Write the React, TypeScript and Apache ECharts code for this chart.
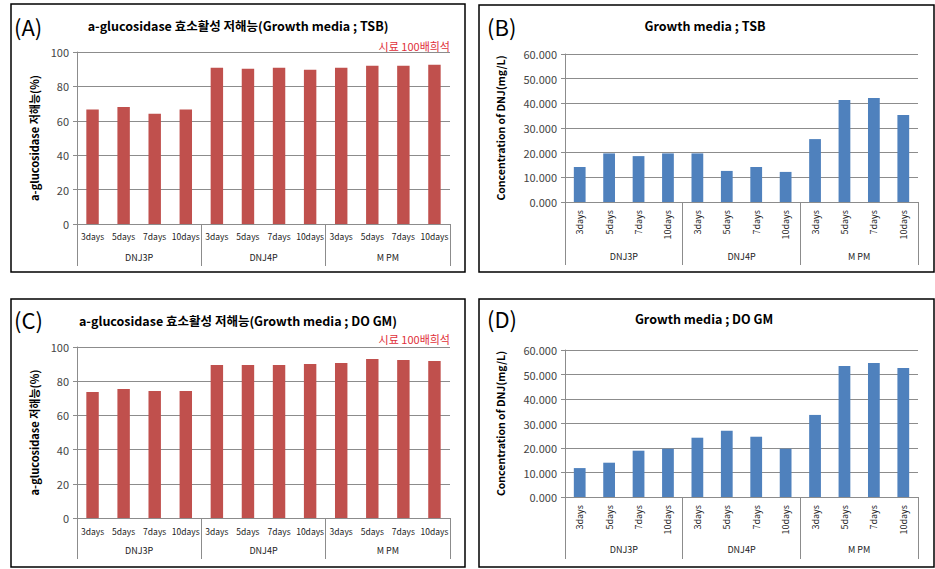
import React, { useEffect, useRef } from "react";
import * as echarts from "echarts";

const days = ["3days", "5days", "7days", "10days", "3days", "5days", "7days", "10days", "3days", "5days", "7days", "10days"];
const groups = ["DNJ3P", "DNJ4P", "M PM"];
const inhibTSB = [66.5, 68.0, 64.1, 66.5, 90.9, 90.3, 90.9, 89.7, 90.9, 92.0, 92.0, 92.6];
const inhibDOGM = [73.7, 75.5, 74.3, 74.3, 89.5, 89.5, 89.5, 90.1, 90.7, 93.0, 92.4, 91.8];
const dnjTSB = [14.2, 19.7, 18.6, 19.7, 19.7, 12.6, 14.2, 12.2, 25.5, 41.4, 42.2, 35.3];
const dnjDOGM = [11.8, 14.0, 18.9, 19.7, 24.2, 27.0, 24.6, 19.7, 33.5, 53.5, 54.7, 52.7];

const FONT = "'Noto Sans CJK KR', 'Noto Sans', sans-serif";
const GRAY = "#8c8c8c";
const RED = "#C0504D";
const BLUE = "#4F81BD";

type Panel = {
  grid: { left: number; top: number; width: number; height: number };
  data: number[];
  color: string;
  max: number;
  fmt: (v: number) => string;
  yName: string;
  yNameGap: number;
  yNameSize: number;
  rotate: number;
  dayMargin: number;
  groupMargin: number;
  sepLen: number;
};

const panels: Panel[] = [
  {
    grid: { left: 77, top: 52, width: 373, height: 172 },
    data: inhibTSB, color: RED, max: 100, fmt: (v) => String(v),
    yName: "a-glucosidase 저해능(%)", yNameGap: 38, yNameSize: 11,
    rotate: 0, dayMargin: 8, groupMargin: 29, sepLen: 42,
  },
  {
    grid: { left: 565, top: 54, width: 353, height: 148 },
    data: dnjTSB, color: BLUE, max: 60, fmt: (v) => v.toFixed(3),
    yName: "Concentration of DNJ(mg/L)", yNameGap: 59, yNameSize: 10.5,
    rotate: 90, dayMargin: 8, groupMargin: 50, sepLen: 63,
  },
  {
    grid: { left: 77, top: 347, width: 373, height: 171 },
    data: inhibDOGM, color: RED, max: 100, fmt: (v) => String(v),
    yName: "a-glucosidase 저해능(%)", yNameGap: 38, yNameSize: 11,
    rotate: 0, dayMargin: 9, groupMargin: 28, sepLen: 41,
  },
  {
    grid: { left: 565, top: 350, width: 353, height: 147 },
    data: dnjDOGM, color: BLUE, max: 60, fmt: (v) => v.toFixed(3),
    yName: "Concentration of DNJ(mg/L)", yNameGap: 59, yNameSize: 10.5,
    rotate: 90, dayMargin: 8, groupMargin: 48, sepLen: 62,
  },
];

const titles = [
  { text: "a-glucosidase 효소활성 저해능(Growth media ; TSB)", x: 238, y: 25 },
  { text: "Growth media ; TSB", x: 705, y: 25 },
  { text: "a-glucosidase 효소활성 저해능(Growth media ; DO GM)", x: 238, y: 320 },
  { text: "Growth media ; DO GM", x: 704, y: 318 },
];

const letters = [
  { text: "(A)", x: 14, y: 26 },
  { text: "(B)", x: 487, y: 26 },
  { text: "(C)", x: 14, y: 319 },
  { text: "(D)", x: 487, y: 318 },
];

const boxes = [
  { x: 11, y: 4, w: 454, h: 268 },
  { x: 479, y: 5, w: 455, h: 267 },
  { x: 11, y: 299, w: 454, h: 268 },
  { x: 479, y: 299, w: 455, h: 268 },
];

export default function App() {
  const ref = useRef<HTMLDivElement>(null);
  useEffect(() => {
    if (!ref.current) return;
    const chart = echarts.init(ref.current, null, { renderer: "svg" });
    const grids: any[] = [];
    const xAxes: any[] = [];
    const yAxes: any[] = [];
    const series: any[] = [];
    panels.forEach((p, i) => {
      grids.push({ ...p.grid, containLabel: false });
      xAxes.push({
        type: "category", gridIndex: i, data: days, position: "bottom",
        axisLine: { show: true, lineStyle: { color: GRAY, width: 1 } },
        axisTick: { show: false },
        axisLabel: {
          interval: 0, fontSize: p.rotate ? 9 : 8.5, color: "#222", fontFamily: FONT,
          margin: p.dayMargin, rotate: p.rotate,
        },
      });
      xAxes.push({
        type: "category", gridIndex: i, data: groups, position: "bottom",
        axisLine: { show: false },
        axisTick: { show: true, interval: 0, length: p.sepLen, lineStyle: { color: GRAY, width: 1 } },
        axisLabel: { interval: 0, fontSize: 9, color: "#222", fontFamily: FONT, margin: p.groupMargin },
      });
      yAxes.push({
        type: "value", gridIndex: i, min: 0, max: p.max, interval: p.max === 100 ? 20 : 10,
        name: p.yName, nameLocation: "middle", nameGap: p.yNameGap,
        nameTextStyle: { fontSize: p.yNameSize, fontWeight: "bold", color: "#000", fontFamily: FONT },
        axisLine: { show: true, lineStyle: { color: GRAY } },
        axisTick: { show: true, length: 4, lineStyle: { color: GRAY } },
        splitLine: { show: true, lineStyle: { color: GRAY, width: 1 } },
        axisLabel: { fontSize: 11, color: "#444", fontFamily: FONT, margin: 8, formatter: p.fmt },
      });
      series.push({
        type: "bar", xAxisIndex: i * 2, yAxisIndex: i, data: p.data,
        barWidth: "40%", itemStyle: { color: p.color }, silent: true,
      });
    });
    const graphic: any[] = [];
    boxes.forEach((b) =>
      graphic.push({
        type: "rect", shape: { x: b.x, y: b.y, width: b.w, height: b.h },
        style: { fill: "none", stroke: "#000", lineWidth: 1.5 }, silent: true,
      })
    );
    titles.forEach((t) =>
      graphic.push({
        type: "text", x: t.x, y: t.y,
        style: {
          text: t.text, fill: "#000", font: `bold 12.5px ${FONT}`,
          textAlign: "center", textVerticalAlign: "middle",
        },
      })
    );
    letters.forEach((t) =>
      graphic.push({
        type: "text", x: t.x, y: t.y,
        style: { text: t.text, fill: "#000", font: `22px ${FONT}`, textAlign: "left", textVerticalAlign: "middle" },
      })
    );
    [46, 339].forEach((y) =>
      graphic.push({
        type: "text", x: 450, y,
        style: { text: "시료 100배희석", fill: "#E0303A", font: `11px ${FONT}`, textAlign: "right", textVerticalAlign: "middle" },
      })
    );
    chart.setOption({
      animation: false,
      backgroundColor: "#fff",
      textStyle: { fontFamily: FONT },
      grid: grids,
      xAxis: xAxes,
      yAxis: yAxes,
      series,
      graphic,
    });
    return () => chart.dispose();
  }, []);
  return (
    <div
      ref={ref}
      style={{ position: "absolute", left: 0, top: 0, width: 935, height: 569, background: "#fff" }}
    />
  );
}
